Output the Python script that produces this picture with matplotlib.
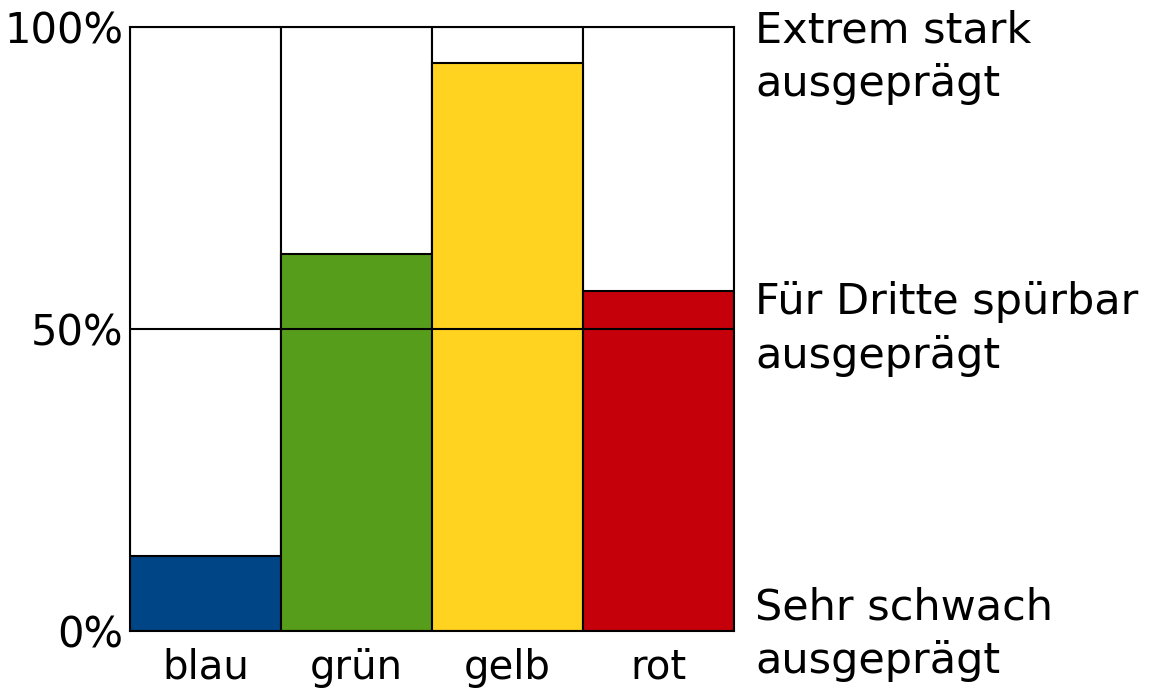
import matplotlib
matplotlib.use("Agg")
import matplotlib.pyplot as plt

categories = ["blau", "grün", "gelb", "rot"]
values = [0.125, 0.625, 0.94, 0.563]
colors = ["#004586", "#579d1c", "#ffd320", "#c5000b"]
ytick_vals = [0.0, 0.5, 1.0]
ytick_labels = ["0%", "50%", "100%"]
right_labels = ["Sehr schwach\nausgeprägt", "Für Dritte spürbar\nausgeprägt", "Extrem stark\nausgeprägt"]
right_label_pos = [-0.005, 0.5, 0.95]

plt.rcParams['font.family'] = ['DejaVu Sans']

fig = plt.figure(figsize=(11.51, 6.92), dpi=100)
ax = fig.add_axes([130/1151, (692-631)/692, (734-130)/1151, (631-27)/692])

x = list(range(len(categories)))
ax.bar(x, [1.0]*len(x), width=1.0, facecolor="white", edgecolor="black", linewidth=1.5, zorder=1)
ax.bar(x, values, width=1.0, color=colors, edgecolor="black", linewidth=1.5, zorder=2)
ax.axhline(0.5, color="black", linewidth=1.5, zorder=3)

ax.set_xlim(-0.5, len(x) - 0.5)
ax.set_ylim(0, 1)
ax.set_xticks(x)
ax.set_xticklabels(categories, fontsize=29)
ax.set_yticks(ytick_vals)
ax.set_yticklabels(ytick_labels, fontsize=30)
ax.tick_params(axis='x', length=0, pad=12)
ax.tick_params(axis='y', length=0, pad=5)
for s in ax.spines.values():
    s.set_linewidth(1.5)
    s.set_zorder(4)

for yv, lab in zip(right_label_pos, right_labels):
    ax.text(1.035, yv, lab, transform=ax.transAxes, fontsize=31,
            va="center", ha="left", linespacing=1.35)

fig.savefig("out.png", dpi=100)
